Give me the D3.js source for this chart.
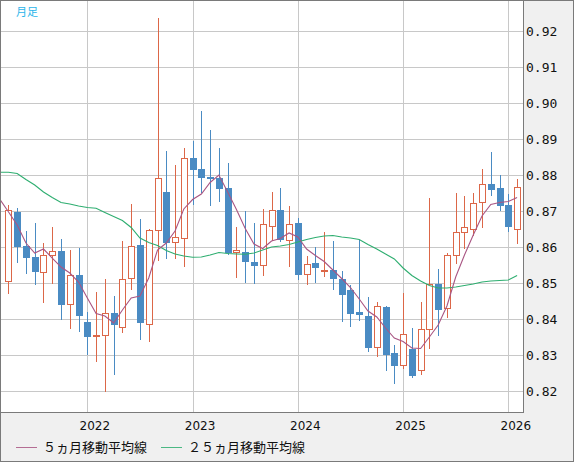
<!DOCTYPE html>
<html><head><meta charset="utf-8">
<script src="https://cdn.jsdelivr.net/npm/d3@7/dist/d3.min.js"></script>
<style>body{margin:0;background:#f0f0f0;}svg{display:block;}</style>
</head><body>
<svg id="c" width="574" height="462"></svg>
<script>
// ---- data ----
const months = ["2021-04","2021-05","2021-06","2021-07","2021-08","2021-09","2021-10","2021-11","2021-12",
"2022-01","2022-02","2022-03","2022-04","2022-05","2022-06","2022-07","2022-08","2022-09","2022-10","2022-11","2022-12",
"2023-01","2023-02","2023-03","2023-04","2023-05","2023-06","2023-07","2023-08","2023-09","2023-10","2023-11","2023-12",
"2024-01","2024-02","2024-03","2024-04","2024-05","2024-06","2024-07","2024-08","2024-09","2024-10","2024-11","2024-12",
"2025-01","2025-02","2025-03","2025-04","2025-05","2025-06","2025-07","2025-08","2025-09","2025-10","2025-11","2025-12",
"2026-01","2026-02"];
const opens  = [.8505,.8697,.8603,.8572,.8530,.8577,.8589,.8442,.8522,
.8392,.8353,.8355,.8417,.8377,.8513,.8606,.8387,.8646,.8753,.8613,.8626,
.8847,.8817,.8794,.8792,.8764,.8585,.8585,.8558,.8549,.8658,.8702,.8620,
.8667,.8524,.8556,.8535,.8536,.8511,.8481,.8419,.8408,.8321,.8433,.8306,
.8271,.8316,.8257,.8371,.8496,.8430,.8577,.8641,.8649,.8724,.8775,.8764,
.8717,.8649];
const highs  = [.8717,.8708,.8644,.8667,.8612,.8656,.8622,.8593,.8597,
.8419,.8475,.8511,.8464,.8617,.8720,.8678,.8650,.9235,.8867,.8828,.8874,
.8894,.8978,.8925,.8875,.8833,.8656,.8700,.8667,.8706,.8753,.8764,.8713,
.8680,.8574,.8600,.8641,.8616,.8533,.8495,.8619,.8461,.8447,.8437,.8329,
.8472,.8376,.8447,.8736,.8539,.8583,.8750,.8742,.8751,.8817,.8864,.8801,
.8746,.8789];
const lows   = [.8469,.8556,.8526,.8495,.8445,.8497,.8398,.8372,.8364,
.8301,.8281,.8198,.8245,.8362,.8481,.8342,.8336,.8562,.8567,.8567,.8545,
.8718,.8751,.8715,.8725,.8579,.8515,.8501,.8497,.8520,.8617,.8613,.8544,
.8509,.8494,.8501,.8518,.8481,.8392,.8379,.8395,.8309,.8294,.8256,.8220,
.8262,.8237,.8245,.8318,.8354,.8404,.8554,.8594,.8631,.8654,.8743,.8699,
.8641,.8609];
const closes = [.8702,.8601,.8570,.8531,.8577,.8588,.8440,.8521,.8409,
.8351,.8356,.8416,.8384,.8510,.8602,.8390,.8646,.8791,.8612,.8627,.8846,
.8815,.8793,.8789,.8762,.8583,.8592,.8559,.8548,.8663,.8702,.8620,.8663,
.8523,.8554,.8543,.8537,.8510,.8468,.8415,.8412,.8320,.8435,.8301,.8270,
.8357,.8243,.8371,.8496,.8426,.8577,.8641,.8655,.8721,.8775,.8759,.8715,
.8656,.8766];
// moving averages start one month earlier (2021-03)
const maMonths = ["2021-03"].concat(months);
const ma5  = [.87333,.86981,.86611,.86111,.85833,.85944,.85694,.85444,.85278,.85028,
.84583,.84153,.84083,.83889,.84250,.84583,.84639,.85139,.85917,.86111,.86444,.87056,
.87319,.87472,.87792,.88000,.87528,.87042,.86514,.86083,.85958,.86167,.86236,.86389,
.86278,.85944,.85764,.85597,.85361,.85125,.84875,.84556,.84222,.84056,.83750,.83472,
.83375,.83194,.83181,.83500,.83833,.84361,.85167,.85778,.86333,.86861,.87181,.87236,
.87264,.87375];
const ma25 = [.88075,.88075,.88042,.87875,.87722,.87528,.87375,.87236,.87194,.87139,
.87097,.87075,.86958,.86847,.86736,.86542,.86250,.86125,.86042,.85903,.85806,.85750,
.85714,.85722,.85778,.85847,.85819,.85806,.85797,.85833,.85917,.86000,.86028,.86069,
.86139,.86208,.86264,.86306,.86319,.86278,.86250,.86208,.86069,.85944,.85806,.85667,
.85417,.85208,.85056,.84931,.84861,.84861,.84889,.84931,.84972,.85028,.85056,.85069,
.85083,.85208];
const yTicks = [0.82,0.83,0.84,0.85,0.86,0.87,0.88,0.89,0.90,0.91,0.92];
const yearTicks = ["2022-01","2023-01","2024-01","2025-01","2026-01"];
const yearLabels = ["2022","2023","2024","2025","2026"];
const legendNames = ["５ヵ月移動平均線","２５ヵ月移動平均線"];

// ---- layout ----
const plot = {x0:1, y0:1, x1:523, y1:412};
const svg = d3.select("#c");
const idx = m => months.indexOf(m);
const x = d3.scaleLinear().domain([0, months.length-1]).range([8.4, 517.1]);
const y = d3.scaleLinear().domain([0.82, 0.92]).range([391, 31]);

const RED = "#dc6748", BLUE = "#4a8bc3", PURPLE = "#a95683", GREEN = "#2eae70";

svg.append("rect").attr("x",0).attr("y",0).attr("width",574).attr("height",462).attr("fill","#f0f0f0");
svg.append("rect").attr("x",plot.x0).attr("y",plot.y0).attr("width",plot.x1-plot.x0).attr("height",plot.y1-plot.y0).attr("fill","#fff");

svg.append("defs").append("clipPath").attr("id","clip").append("rect")
  .attr("x",plot.x0).attr("y",plot.y0).attr("width",plot.x1-plot.x0).attr("height",plot.y1-plot.y0);

const g = svg.append("g").attr("clip-path","url(#clip)");

// grid
g.selectAll("line.hg").data(yTicks).enter().append("line")
  .attr("x1",plot.x0).attr("x2",plot.x1)
  .attr("y1",d=>Math.round(y(d))+0.5).attr("y2",d=>Math.round(y(d))+0.5)
  .attr("stroke","#c8c8c8").attr("stroke-width",1).attr("shape-rendering","crispEdges");
g.selectAll("line.vg").data(yearTicks).enter().append("line")
  .attr("x1",d=>Math.round(x(idx(d)))+0.5).attr("x2",d=>Math.round(x(idx(d)))+0.5)
  .attr("y1",plot.y0).attr("y2",plot.y1)
  .attr("stroke","#c8c8c8").attr("stroke-width",1).attr("shape-rendering","crispEdges");

// candles
const candles = months.map((m,i)=>({i, o:opens[i], h:highs[i], l:lows[i], c:closes[i]}));
const bw = 6;
const cg = g.append("g").attr("shape-rendering","crispEdges");
candles.forEach(d=>{
  const cx = Math.round(x(d.i)) + 0.5;
  const up = d.c >= d.o;
  const col = up ? RED : BLUE;
  const top = Math.round(y(Math.max(d.o,d.c))), bot = Math.round(y(Math.min(d.o,d.c)));
  cg.append("line").attr("x1",cx).attr("x2",cx).attr("y1",y(d.h)).attr("y2",y(d.l))
    .attr("stroke",col).attr("stroke-width",1);
  const left = Math.round(x(d.i)) - 3;
  if (up) {
    cg.append("rect").attr("x",left+0.5).attr("y",top+0.5)
      .attr("width",bw).attr("height",Math.max(bot-top,1))
      .attr("fill","#fff").attr("stroke",col).attr("stroke-width",1);
  } else {
    cg.append("rect").attr("x",left).attr("y",top)
      .attr("width",bw+1).attr("height",Math.max(bot-top,2))
      .attr("fill",col);
  }
});

// moving averages
const line = d3.line().x((d,i)=>x(i-1)).y(d=>y(d));
g.append("path").datum(ma25).attr("d",line).attr("fill","none").attr("stroke",GREEN).attr("stroke-width",1.1);
g.append("path").datum(ma5).attr("d",line).attr("fill","none").attr("stroke",PURPLE).attr("stroke-width",1.1);

// borders
svg.append("path").attr("d",`M${plot.x1+0.5},0 V${plot.y1+0.5} H0`)
  .attr("fill","none").attr("stroke","#7a7a7a").attr("stroke-width",1).attr("shape-rendering","crispEdges");
svg.append("rect").attr("x",0.5).attr("y",0.5).attr("width",573).attr("height",461)
  .attr("fill","none").attr("stroke","#7a7a7a").attr("stroke-width",1).attr("shape-rendering","crispEdges");

// y axis labels
svg.selectAll("text.yl").data(yTicks).enter().append("text")
  .attr("x",526).attr("y",d=>y(d)+4.5)
  .attr("font-family","'DejaVu Sans Mono', monospace").attr("font-size",13).attr("fill","#111")
  .text(d=>d.toFixed(2));

// x axis labels
svg.selectAll("text.xl").data(yearTicks).enter().append("text")
  .attr("x",d=>x(idx(d))+7.5).attr("y",429.5).attr("text-anchor","middle")
  .attr("font-family","'DejaVu Sans', sans-serif").attr("font-size",12).attr("fill","#111")
  .text((d,i)=>yearLabels[i]);

// title label
svg.append("text").attr("x",16).attr("y",16).attr("font-family","'Noto Sans CJK JP', sans-serif")
  .attr("font-size",11).attr("fill","#2cb5ea").text("月足");

// legend
const legX = [16,161];
const legCol = [PURPLE, GREEN];
legendNames.forEach((n,i)=>{
  svg.append("line").attr("x1",legX[i]).attr("x2",legX[i]+21).attr("y1",447.5).attr("y2",447.5)
    .attr("stroke",legCol[i]).attr("stroke-opacity",0.85).attr("stroke-width",1).attr("shape-rendering","crispEdges");
  svg.append("text").attr("x",legX[i]+27).attr("y",452)
    .attr("font-family","'Noto Sans CJK JP', sans-serif").attr("font-size",13).attr("fill","#111")
    .text(n);
});
</script>
</body></html>
